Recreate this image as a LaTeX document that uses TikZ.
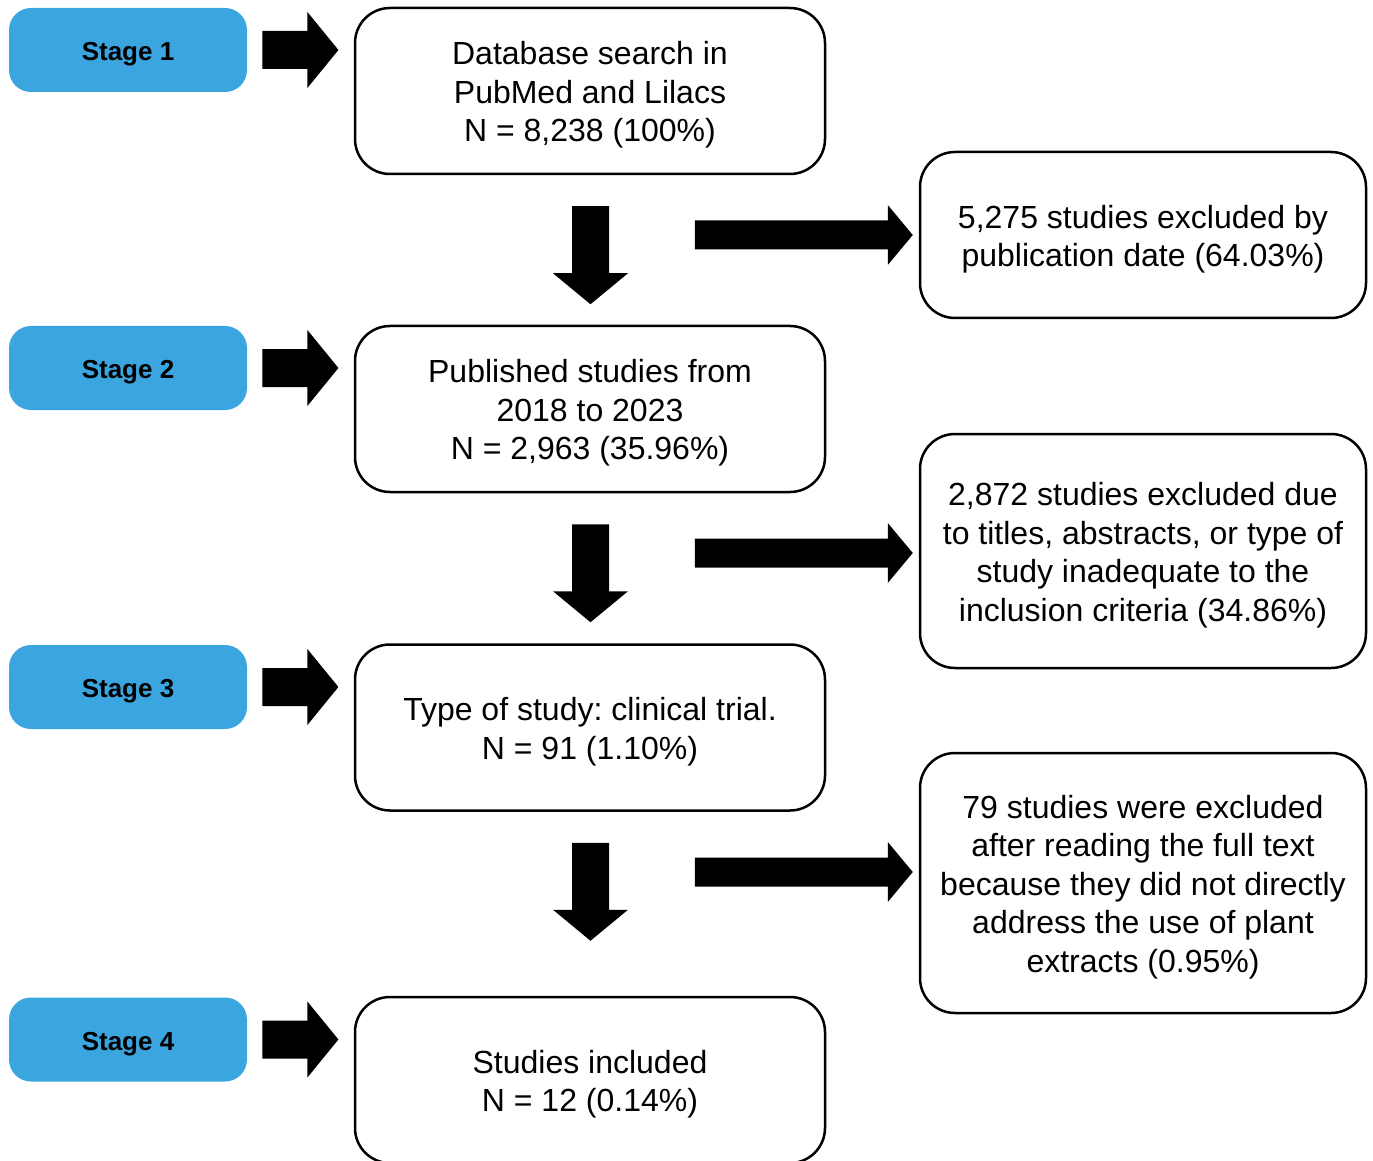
\documentclass[tikz,border=0pt]{standalone}
\usepackage{fontspec}
\setmainfont{Liberation Sans}
\usepackage{xcolor}
\usetikzlibrary{calc}
\definecolor{stageblue}{HTML}{3BA5DF}
\newcommand{\toppad}{\rule{0pt}{15.7pt}}
\frenchspacing

\tikzset{
  stagebox/.style={fill=stageblue, rounded corners=11pt, minimum width=119pt, minimum height=42pt,
    font=\fontsize{13pt}{15pt}\selectfont\bfseries, execute at begin node={\rule{0pt}{13.4pt}}},
  mainbox/.style={draw=black, line width=1.25pt, rounded corners=17.5pt, minimum width=235pt,
    minimum height=83pt, align=center, font=\fontsize{16pt}{19.25pt}\selectfont},
  sidebox/.style={mainbox, minimum width=223pt},
  blockarrow/.style={fill=black}
}

\begin{document}
\begin{tikzpicture}[x=0.5pt,y=-0.5pt]
  \clip (0,0) rectangle (1373,1161);
  % stages
  \node[stagebox] (s1) at (128,50) {Stage 1};
  \node[stagebox] (s2) at (128,368) {Stage 2};
  \node[stagebox] (s3) at (128,687) {Stage 3};
  \node[stagebox] (s4) at (128,1039.5) {Stage 4};
  % main column
  \node[mainbox] (m1) at (590,91) {\toppad Database search in\\PubMed and Lilacs\\N = 8,238 (100\%)};
  \node[mainbox] (m2) at (590,409) {\toppad Published studies from\\2018 to 2023\\N = 2,963 (35.96\%)};
  \node[mainbox] (m3) at (590,727.5) {\toppad Type of study: clinical trial.\\N = 91 (1.10\%)};
  \node[mainbox] (m4) at (590,1080) {\toppad Studies included\\N = 12 (0.14\%)};
  % exclusions
  \node[sidebox] (r1) at (1143,235) {\toppad 5,275 studies excluded by\\publication date (64.03\%)};
  \node[sidebox, minimum height=117pt] (r2) at (1143,551) {\toppad 2,872 studies excluded due\\to titles, abstracts, or type of\\study inadequate to the\\inclusion criteria (34.86\%)};
  \node[sidebox, minimum height=130pt] (r3) at (1143,883) {\toppad 79 studies were excluded\\after reading the full text\\because they did not directly\\address the use of plant\\extracts (0.95\%)};

  % stage arrows
  \foreach \i in {1,...,4}
    \fill[blockarrow] ($(s\i.east)+(15,-19)$) -- ++(45,0) -- ++(0,-19) -- ++(31,38)
      -- ++(-31,38) -- ++(0,-19) -- ++(-45,0) -- cycle;
  % down arrows
  \foreach \i in {1,2,3}
    \fill[blockarrow] ($(m\i.south)+(-18,31)$) -- ++(37,0) -- ++(0,67) -- ++(19,0)
      -- ++(-37.5,31) -- ++(-37.5,-31) -- ++(19,0) -- cycle;
  % exclusion arrows
  \foreach \r/\dy in {r1/0, r2/2, r3/-11}
    \fill[blockarrow] ($(\r.west)+(-6,\dy)$) -- ++(-25,-30) -- ++(0,15.5) -- ++(-193,0)
      -- ++(0,29) -- ++(193,0) -- ++(0,15.5) -- cycle;
\end{tikzpicture}
\end{document}
